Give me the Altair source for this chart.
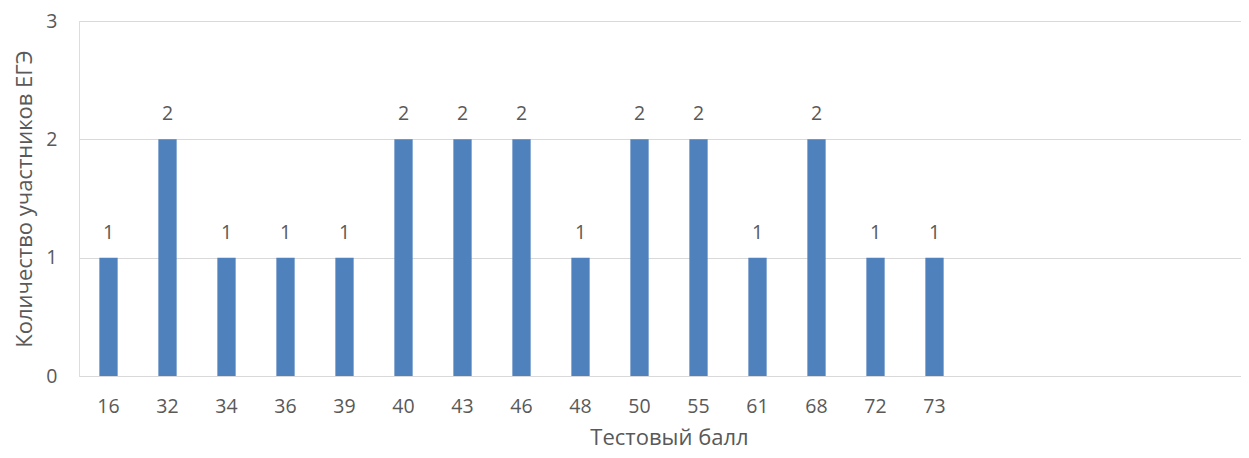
import altair as alt
import pandas as pd

scores = ["16", "32", "34", "36", "39", "40", "43", "46", "48", "50", "55", "61", "68", "72", "73"]
counts = [1, 2, 1, 1, 1, 2, 2, 2, 1, 2, 2, 1, 2, 1, 1]
blank_slots = [" ", "  ", "   ", "    ", "     "]

df = pd.DataFrame({"score": scores, "count": counts})

FONT = "Open Sans"
GREY = "#595959"
LBL = 19.5

x = alt.X(
    "score:N",
    sort=None,
    scale=alt.Scale(domain=scores + blank_slots, range=[0, 1180],
                    paddingInner=0.69, paddingOuter=0.345),
    axis=alt.Axis(
        title="Тестовый балл",
        values=scores,
        labelAngle=0,
        ticks=False,
        domain=False,
        grid=False,
        labelPadding=21,
        titlePadding=12,
        labelFontSize=LBL,
        titleFontSize=22,
        labelColor=GREY,
        titleColor=GREY,
        labelFont=FONT,
        titleFont=FONT,
        titleFontWeight="normal",
        titleX=590,
    ),
)
y = alt.Y(
    "count:Q",
    scale=alt.Scale(domain=[0, 3], nice=False),
    axis=alt.Axis(
        title="Количество участников ЕГЭ",
        values=[0, 1, 2, 3],
        ticks=False,
        domain=False,
        gridColor="#D9D9D9",
        gridWidth=1,
        labelPadding=22,
        titlePadding=9,
        labelFontSize=LBL,
        titleFontSize=22,
        labelColor=GREY,
        titleColor=GREY,
        labelFont=FONT,
        titleFont=FONT,
        titleFontWeight="normal",
    ),
)

bars = alt.Chart(df).mark_bar(color="#4F81BD").encode(x=x, y=y)
labels = alt.Chart(df).mark_text(
    baseline="middle", dy=-25, fontSize=LBL, font=FONT, color=GREY
).encode(x=x, y=y, text="count:Q")

chart = (
    (bars + labels)
    .properties(
        width=1162,
        height=355,
        autosize=alt.AutoSizeParams(type="none"),
        padding={"left": 71, "top": 13, "right": 0, "bottom": 82},
    )
    .configure_view(stroke=None)
    .configure(background="white")
)

chart.save("out.html", embed_options={"renderer": "svg", "actions": False})
